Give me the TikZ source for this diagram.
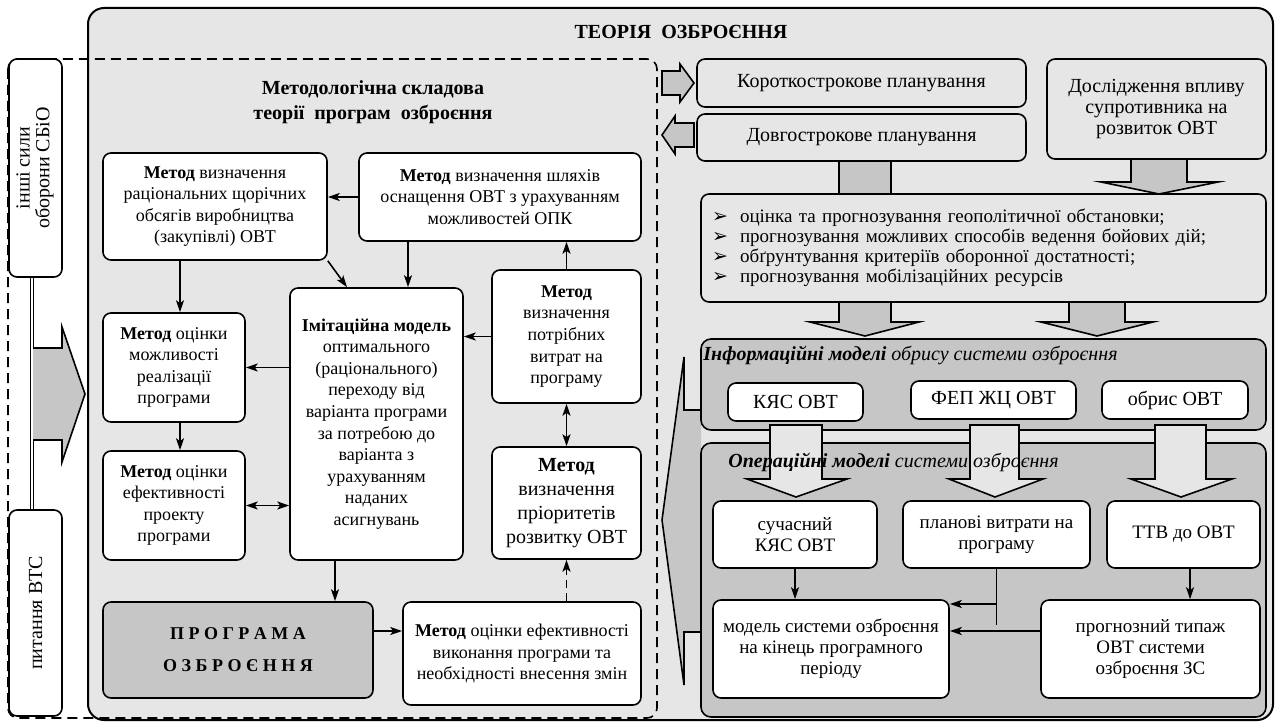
\documentclass[tikz,border=0pt]{standalone}
\usepackage{fontspec}
\usepackage{graphicx}
\setmainfont{Liberation Serif}
\newfontfamily\symfont{DejaVu Sans}
\usetikzlibrary{arrows.meta,positioning,backgrounds}

\definecolor{pagegray}{HTML}{E6E6E6}
\definecolor{midgray}{HTML}{C6C6C6}

\tikzset{
  box/.style={draw, fill=white, rounded corners=4pt, line width=0.8pt, align=center, inner sep=1pt},
  rbox/.style={box, fill=none},
  panel/.style={draw, fill=midgray, rounded corners=5pt, line width=0.8pt},
  arr/.style={-{Stealth[length=6pt,width=4pt,inset=1.5pt]}, line width=0.8pt},
  dblarr/.style={{Stealth[length=6pt,width=4pt,inset=1.5pt]}-{Stealth[length=6pt,width=4pt,inset=1.5pt]}, line width=0.8pt},
  blockarrow/.style={draw, fill=midgray, line width=0.8pt, line join=miter},
}

\begin{document}
\begin{tikzpicture}[x=0.5pt, y=-0.5pt, font=\fontsize{9}{10.8}\selectfont]
  \useasboundingbox (0,0) rectangle (1277,722);

  % theory frame
  \draw[fill=pagegray, line width=1pt, rounded corners=8pt] (88,8) rectangle (1273,720);
  \node[font=\fontsize{10}{12}\selectfont\bfseries] (title) at (681,32) {ТЕОРІЯ~~ОЗБРОЄННЯ};

  % methodology part
  \draw[line width=0.8pt, dash pattern=on 5pt off 3pt, rounded corners=5pt] (8,59) rectangle (657,718);
  \node[font=\fontsize{10}{12.5}\selectfont\bfseries, align=center] (subtitle) at (373,102)
    {Методологічна складова\\теорії~~програм~~озброєння};

  % left column
  \node[box, minimum width=26.5pt, minimum height=109pt, font=\fontsize{10}{9}\selectfont] (forces) at (35.5,168)
    {\rotatebox{90}{\begin{tabular}{@{}c@{}}інші сили\\оборони СБіО\end{tabular}}};
  \node[box, minimum width=26.5pt, minimum height=103pt, font=\fontsize{10}{9}\selectfont] (vts) at (35.5,613)
    {\rotatebox{90}{питання ВТС}};
  \begin{scope}[on background layer]
    \draw[double, double distance=1pt, line width=0.5pt] (forces.south -| 31.5,0) -- (vts.north -| 31.5,0);
  \end{scope}
  \draw[blockarrow] (33,348) -- (62,348) -- (62,327) -- (85,394) -- (62,462) -- (62,440) -- (33,440);

  % methods
  \node[box, minimum width=112pt, minimum height=53.5pt] (volume) at (215,206.5)
    {\textbf{Метод} визначення\\раціональних щорічних\\обсягів виробництва\\(закупівлі) ОВТ};
  \node[box, minimum width=141pt, minimum height=44pt] (ways) at (500,197)
    {\textbf{Метод} визначення шляхів\\оснащення ОВТ з урахуванням\\можливостей ОПК};
  \node[box, minimum width=86.5pt, minimum height=136pt] (imit) at (376.5,424)
    {\textbf{Імітаційна модель}\\оптимального\\(раціонального)\\переходу від\\варіанта програми\\за потребою до\\варіанта з\\урахуванням\\наданих\\асигнувань};
  \node[box, minimum width=74.5pt, minimum height=66.5pt] (costs) at (566.5,336.5)
    {\textbf{Метод}\\визначення\\потрібних\\витрат на\\програму};
  \node[box, minimum width=71pt, minimum height=54.5pt] (feasible) at (174,367.5)
    {\textbf{Метод} оцінки\\можливості\\реалізації\\програми};
  \node[box, minimum width=71pt, minimum height=54.5pt] (project) at (174,505.5)
    {\textbf{Метод} оцінки\\ефективності\\проекту\\програми};
  \node[box, minimum width=74.5pt, minimum height=56pt, font=\fontsize{10}{12}\selectfont] (priority) at (566.5,503)
    {\textbf{Метод}\\визначення\\пріоритетів\\розвитку ОВТ};
  \node[box, fill=midgray, minimum width=135pt, minimum height=48pt, font=\fontsize{9}{16}\selectfont\bfseries]
    (program) at (238,650) {П Р О Г Р А М А\\О З Б Р О Є Н Н Я};
  \node[box, minimum width=119pt, minimum height=51.5pt] (execution) at (522,653.5)
    {\textbf{Метод} оцінки ефективності\\виконання програми та\\необхідності внесення змін};

  \draw[arr] (ways.west) -- (volume.east |- ways.west);
  \draw[arr] (volume.south -| 180,0) -- (feasible.north -| 180,0);
  \draw[arr] (volume.south east) -- (imit.north -| 347,0);
  \draw[arr] (ways.south -| 408,0) -- (imit.north -| 408,0);
  \draw[arr] (costs.north) -- (costs.north |- ways.south);
  \draw[arr] (costs.west) -- (imit.east |- costs.west);
  \draw[arr] (imit.west |- feasible.east) -- (feasible.east);
  \draw[arr] (feasible.south -| 180,0) -- (project.north -| 180,0);
  \draw[dblarr] (project.east) -- (imit.west |- project.east);
  \draw[arr] (imit.south -| 335,0) -- (program.north -| 335,0);
  \draw[arr] (program.east |- 0,631) -- (execution.west |- 0,631);
  \draw[arr, dash pattern=on 4pt off 2.5pt] (execution.north -| priority.south) -- (priority.south);
  \draw[dblarr] (costs.south) -- (priority.north);

  % planning
  \draw[blockarrow] (662,71) -- (680,71) -- (680,64) -- (694,83) -- (680,102) -- (680,95) -- (662,95) -- cycle;
  \draw[blockarrow] (694,123) -- (675,123) -- (675,116) -- (662,135) -- (675,154) -- (675,147) -- (694,147) -- cycle;
  \draw[blockarrow] (839,161) rectangle (891,194);
  \draw[blockarrow] (1131,159) -- (1131,182) -- (1101,182) -- (1159,194) -- (1218,182) -- (1187,182) -- (1187,159);
  \draw[blockarrow] (839,302) -- (839,322) -- (810,322) -- (865,336) -- (919,322) -- (891,322) -- (891,302);
  \draw[blockarrow] (1069,302) -- (1069,322) -- (1041,322) -- (1097,336) -- (1153,322) -- (1125,322) -- (1125,302);
  \begin{scope}[font=\fontsize{10}{10.5}\selectfont]
    \node[rbox, minimum width=164.5pt, minimum height=24pt] (shortterm) at (861.5,83) {Короткострокове планування};
    \node[rbox, minimum width=164.5pt, minimum height=23.5pt] (longterm) at (861.5,137.5) {Довгострокове планування};
    \node[rbox, minimum width=109.5pt, minimum height=50pt] (enemy) at (1156.5,109)
      {Дослідження впливу\\супротивника на\\розвиток ОВТ};
  \end{scope}
  \node[rbox, minimum height=54pt, inner xsep=5.5pt, text width=271.5pt, align=left,
    font=\fontsize{9.5}{10}\selectfont] (tasks) at (983.5,248)
    {\makebox[14pt][l]{\symfont ➢}оцінка та прогнозування геополітичної обстановки;\\
     \makebox[14pt][l]{\symfont ➢}прогнозування можливих способів ведення бойових дій;\\
     \makebox[14pt][l]{\symfont ➢}обґрунтування критеріїв оборонної достатності;\\
     \makebox[14pt][l]{\symfont ➢}прогнозування мобілізаційних ресурсів};

  % models
  \draw[blockarrow] (701,410) -- (684,410) -- (684,357) -- (662,520) -- (684,685) -- (684,632) -- (701,632);
  \node[panel, minimum width=282.5pt, minimum height=45.5pt] (info) at (983.5,384.5) {};
  \node[panel, minimum width=282.5pt, minimum height=137pt] (ops) at (983.5,580) {};
  \begin{scope}[font=\fontsize{10}{12}\selectfont]
    \node[box, minimum width=67.5pt, minimum height=19pt] (kyas) at (795.5,402) {КЯС ОВТ};
    \node[box, minimum width=82.5pt, minimum height=19pt] (fep) at (993.5,400) {ФЕП ЖЦ ОВТ};
    \node[box, minimum width=73pt, minimum height=19pt] (obrys) at (1175,400) {обрис ОВТ};
  \end{scope}
  \draw[blockarrow, fill=pagegray] (770,425) -- (770,479) -- (747,479) -- (796,497) -- (847,479) -- (822,479) -- (822,425) -- cycle;
  \draw[blockarrow, fill=pagegray] (970,425) -- (970,479) -- (949,479) -- (995,497) -- (1043,479) -- (1019,479) -- (1019,425) -- cycle;
  \draw[blockarrow, fill=pagegray] (1155,425) -- (1155,479) -- (1131,479) -- (1181,497) -- (1232,479) -- (1206,479) -- (1206,425) -- cycle;
  \node[anchor=west, inner sep=0pt, font=\fontsize{10}{12}\selectfont\itshape] (infotitle) at (703,355)
    {\textbf{Інформаційні моделі} обрису системи озброєння};
  \node[anchor=west, inner sep=0pt, font=\fontsize{10}{12}\selectfont\itshape] (opstitle) at (728,462)
    {\textbf{Операційні моделі} системи озброєння};
  \begin{scope}[font=\fontsize{9.5}{10.5}\selectfont]
    \node[box, minimum width=82pt, minimum height=33.5pt] (current) at (795,534.5) {сучасний\\КЯС ОВТ};
    \node[box, minimum width=93.5pt, minimum height=33.5pt] (planned) at (996.5,534.5) {планові витрати на\\програму};
    \node[box, minimum width=76.5pt, minimum height=33.5pt] (ttv) at (1183.5,534.5) {ТТВ до ОВТ};
    \node[box, minimum width=118pt, minimum height=49pt] (model) at (831,649)
      {модель системи озброєння\\на кінець програмного\\періоду};
    \node[box, minimum width=109.5pt, minimum height=49pt] (forecast) at (1150.5,649)
      {прогнозний типаж\\ОВТ системи\\озброєння ЗС};
  \end{scope}
  \draw[arr] (current.south) -- (current.south |- model.north);
  \draw[line width=0.8pt] (planned.south) -- (planned.south |- 0,625);
  \draw[arr] (planned.south |- 0,604) -- (model.east |- 0,604);
  \draw[arr] (forecast.west |- 0,631) -- (model.east |- 0,631);
  \draw[arr] (ttv.south -| 1190,0) -- (forecast.north -| 1190,0);
\end{tikzpicture}
\end{document}
